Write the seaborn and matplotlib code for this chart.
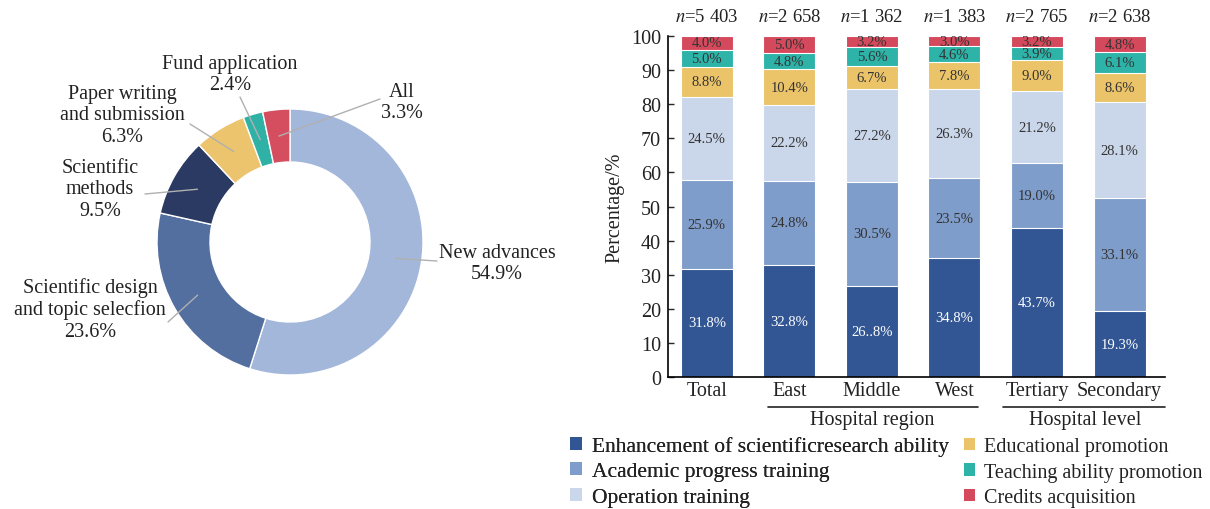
import numpy as np
import matplotlib
matplotlib.use('Agg')
import matplotlib.pyplot as plt
import matplotlib.transforms as mtransforms
from matplotlib.patches import Patch
import seaborn as sns

# ---- donut data
topics = ['New advances', 'Scientific design\nand topic selecfion', 'Scientific\nmethods',
          'Paper writing\nand submission', 'Fund application', 'All']
topic_pct = [54.9, 23.6, 9.5, 6.3, 2.4, 3.3]
topic_colors = ['#a3b7db', '#536f9f', '#2b3a63', '#ecc46e', '#30b1a6', '#d44e60']

# ---- stacked bar data
groups = ['Total', 'East', 'Middle', 'West', 'Tertiary', 'Secondary']
n_sizes = ['5 403', '2 658', '1 362', '1 383', '2 765', '2 638']
purposes = ['Enhancement of scientificresearch ability', 'Academic progress training',
            'Operation training', 'Educational promotion', 'Teaching ability promotion',
            'Credits acquisition']
enhancement = [31.8, 32.8, 26.8, 34.8, 43.7, 19.3]
academic = [25.9, 24.8, 30.5, 23.5, 19.0, 33.1]
operation = [24.5, 22.2, 27.2, 26.3, 21.2, 28.1]
educational = [8.8, 10.4, 6.7, 7.8, 9.0, 8.6]
teaching = [5.0, 4.8, 5.6, 4.6, 3.9, 6.1]
credits = [4.0, 5.0, 3.2, 3.0, 3.2, 4.8]
bar_colors = ['#325694', '#7f9dcb', '#cad6ea', '#ebc46a', '#2db3a8', '#d4495b']
# typo kept as printed in the source figure
label_fix = {(0, 2): '26..8%'}

sns.set_style('white')
plt.rcParams['font.family'] = ['Liberation Serif', 'DejaVu Serif']
plt.rcParams['mathtext.fontset'] = 'stix'
TXT = '#222222'

W, H = 1210, 510
fig = plt.figure(figsize=(W / 100, H / 100), dpi=100)
fig.patch.set_facecolor('white')

# ================= donut (axes in pixel units, y measured from top)
ax_pie = fig.add_axes([0, 0, 590 / W, 1])
def py(y):
    return H - y

cx, cy, R, ring = 290, py(243), 133, 53
ax_pie.pie(topic_pct, colors=topic_colors, startangle=90, counterclock=False,
           center=(cx, cy), radius=R,
           wedgeprops=dict(width=ring, edgecolor='white', linewidth=1))
ax_pie.set_xlim(0, 590)
ax_pie.set_ylim(0, H)
ax_pie.axis('off')

# label text positions and leader-line ends (pixels)
text_pos = [(497, 264), (90, 310), (100, 190), (122, 116), (230, 75), (402, 103)]
line_end = [(437, 262), (168, 323), (145, 195), (190, 125), (240, 98), (380, 100)]
cum = np.cumsum([0] + topic_pct)
for i, (name, pct) in enumerate(zip(topics, topic_pct)):
    mid = np.deg2rad(90 - (cum[i] + pct / 2) * 3.6)
    r = R - ring / 2
    x0, y0 = cx + r * np.cos(mid), cy + r * np.sin(mid)
    ex, ey = line_end[i]
    ax_pie.plot([x0, ex], [y0, py(ey)], color='#b0b0b0', lw=1)
    tx, ty = text_pos[i]
    ax_pie.text(tx, py(ty), f'{name}\n{pct}%', ha='center', va='center',
                fontsize=14.5, linespacing=1.2, color=TXT)

# ================= stacked bars
ax = fig.add_axes([668 / W, 1 - 378 / H, (1165 - 668) / W, (378 - 37) / H])
layers = np.array([enhancement, academic, operation, educational, teaching, credits])
tops = np.cumsum(layers, axis=0)
for i in range(len(layers) - 1, -1, -1):
    sns.barplot(x=groups, y=tops[i], color=bar_colors[i], width=0.63, saturation=1,
                edgecolor='white', linewidth=0.8, ax=ax)

for i in range(len(layers)):
    for j in range(len(groups)):
        v = layers[i, j]
        txt = label_fix.get((i, j), f'{v:.1f}%')
        ax.text(j, tops[i, j] - v / 2, txt, ha='center', va='center', fontsize=10.5,
                color='white' if i == 0 else '#333333')

for j, n in enumerate(n_sizes):
    ax.text(j, 105.6, f'$n$={n}', ha='center', va='center', fontsize=13.5,
            color=TXT, clip_on=False)

ax.set_xlim(-0.47, 5.55)
ax.set_ylim(0, 100)
ax.set_yticks(range(0, 101, 10))
ax.set_xlabel('')
ax.set_ylabel('Percentage/%', fontsize=14.5, labelpad=5, color=TXT)
ax.tick_params(axis='y', direction='in', length=4, width=1, labelsize=14.5, pad=5,
               left=True, labelcolor=TXT)
ax.tick_params(axis='x', length=0, labelsize=14.5, pad=3, labelcolor=TXT)
for s in ['top', 'right']:
    ax.spines[s].set_visible(False)
for s in ['left', 'bottom']:
    ax.spines[s].set_color('black')
    ax.spines[s].set_linewidth(1.2)

# group brackets
trans = mtransforms.blended_transform_factory(ax.transData, ax.transAxes)
yb = -(408 - 378) / (378 - 37)
yt = -(421 - 378) / (378 - 37)
for (a, b), name, xc in [((0.74, 3.28), 'Hospital region', 2.0),
                         ((3.59, 5.55), 'Hospital level', 4.58)]:
    ax.plot([a, b], [yb, yb], color=TXT, lw=1.2, transform=trans, clip_on=False)
    ax.text(xc, yt, name, ha='center', va='center', fontsize=14.5, transform=trans,
            color=TXT)

# legend in two separate columns
handles = [Patch(facecolor=c, edgecolor='none') for c in bar_colors]
leg_kw = dict(loc='upper left', frameon=False, handlelength=0.55,
              handleheight=0.55, handletextpad=0.45,
              borderaxespad=0, borderpad=0, labelcolor=TXT)
leg1 = fig.legend(handles[:3], purposes[:3], bbox_to_anchor=(570 / W, 1 - 437 / H),
                  fontsize=15.5, labelspacing=0.3, **leg_kw)
fig.add_artist(leg1)
fig.legend(handles[3:], purposes[3:], bbox_to_anchor=(964 / W, 1 - 438 / H),
           fontsize=14.5, labelspacing=0.33, **leg_kw)

fig.savefig('out.png', dpi=100, facecolor='white')
